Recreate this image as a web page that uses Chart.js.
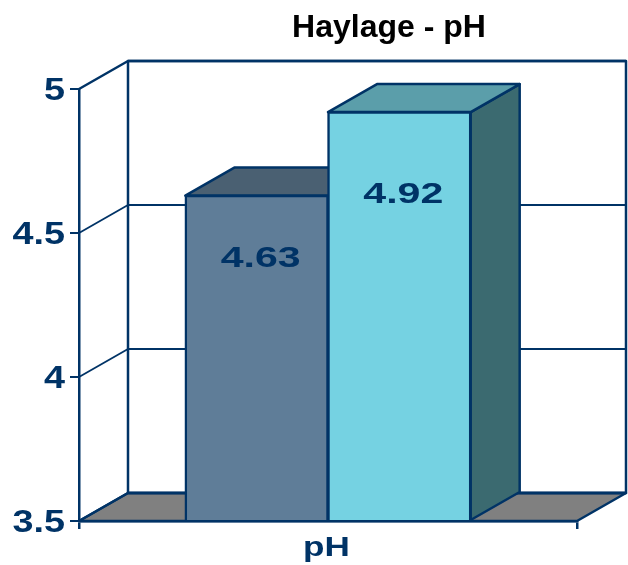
<!DOCTYPE html>
<html>
<head>
<meta charset="utf-8">
<title>Haylage - pH</title>
<style>
  html, body { margin: 0; padding: 0; background: #fff; }
  canvas { display: block; }
</style>
<script src="https://cdn.jsdelivr.net/npm/chart.js@4"></script>
</head>
<body>
<canvas id="chart" width="628" height="565"></canvas>
<script>
const categories = ['pH'];
const seriesA = [4.63];
const seriesB = [4.92];
const yTicks = [3.5, 4, 4.5, 5];
const chartTitle = 'Haylage - pH';

const NAVY = '#003366';
const FONT = '"Liberation Sans"';
// depth of the fake 3D box, same for walls and bars
const DEPTH_X = 49, DEPTH_Y = -28;
const faces = [
    { front: '#5f7d98', top: '#4a6072', side: '#3f5a70', labelDx: 4, labelDy: 71 },
    { front: '#75d2e2', top: '#5b9eaa', side: '#3b6a70', labelDx: 4, labelDy: 91 }
];

function poly(ctx, pts, fill) {
    ctx.beginPath();
    pts.forEach(function (p, i) { i ? ctx.lineTo(p[0], p[1]) : ctx.moveTo(p[0], p[1]); });
    ctx.closePath();
    if (fill) { ctx.fillStyle = fill; ctx.fill(); }
    ctx.stroke();
}

// The reference text is Arial bold pulled wider, so scale x around an anchor.
function stretched(ctx, anchor, sx, draw) {
    ctx.save();
    ctx.translate(anchor, 0);
    ctx.scale(sx, 1);
    ctx.translate(-anchor, 0);
    draw();
    ctx.restore();
}

function stretchLabels(scale, anchor, sx, dy) {
    if (scale.stretchedLabels) return;
    scale.stretchedLabels = true;
    const orig = scale.drawLabels;
    scale.drawLabels = function (area) {
        scale.ctx.save();
        scale.ctx.translate(0, dy);
        stretched(scale.ctx, anchor, sx, function () { orig.call(scale, area); });
        scale.ctx.restore();
    };
}

const box3d = {
    id: 'box3d',
    beforeDraw(chart) {
        stretchLabels(chart.scales.y, 65, 1.18, 2);
        stretchLabels(chart.scales.x, 333, 1.3, 1);
    },
    beforeDatasetsDraw(chart) {
        const ctx = chart.ctx, a = chart.chartArea, y = chart.scales.y;
        ctx.save();
        ctx.strokeStyle = NAVY;
        ctx.lineJoin = 'round';
        // floor
        ctx.lineWidth = 2.5;
        poly(ctx, [[a.left, a.bottom], [a.right, a.bottom],
            [a.right + DEPTH_X, a.bottom + DEPTH_Y], [a.left + DEPTH_X, a.bottom + DEPTH_Y]], '#808080');
        // back wall
        ctx.strokeRect(a.left + DEPTH_X, a.top + DEPTH_Y, a.right - a.left, a.bottom - a.top);
        // grid lines run along the side wall and across the back wall
        yTicks.forEach(function (v) {
            const py = y.getPixelForValue(v);
            ctx.lineWidth = (v === yTicks[0] || v === yTicks[yTicks.length - 1]) ? 2.5 : 1.8;
            ctx.beginPath();
            ctx.moveTo(a.left, py);
            ctx.lineTo(a.left + DEPTH_X, py + DEPTH_Y);
            ctx.lineTo(a.right + DEPTH_X, py + DEPTH_Y);
            ctx.stroke();
        });
        // side and top faces of the bars, the fronts come from the library
        ctx.lineWidth = 2.5;
        chart.data.datasets.forEach(function (ds, i) {
            const b = chart.getDatasetMeta(i).data[0], l = b.x - b.width / 2, r = b.x + b.width / 2;
            poly(ctx, [[r, b.y], [r + DEPTH_X, b.y + DEPTH_Y], [r + DEPTH_X, b.base + DEPTH_Y], [r, b.base]], faces[i].side);
            poly(ctx, [[l, b.y], [r, b.y], [r + DEPTH_X, b.y + DEPTH_Y], [l + DEPTH_X, b.y + DEPTH_Y]], faces[i].top);
        });
        ctx.restore();
    },
    afterDraw(chart) {
        const ctx = chart.ctx;
        ctx.save();
        ctx.textAlign = 'center';
        ctx.textBaseline = 'alphabetic';
        ctx.fillStyle = '#000';
        ctx.font = 'bold 32px ' + FONT;
        ctx.fillText(chartTitle, 389, 37);
        ctx.fillStyle = NAVY;
        ctx.font = 'bold 30px ' + FONT;
        chart.data.datasets.forEach(function (ds, i) {
            const b = chart.getDatasetMeta(i).data[0], cx = b.x + faces[i].labelDx;
            stretched(ctx, cx, 1.37, function () {
                ctx.fillText(ds.data[0].toFixed(2), cx, b.y + faces[i].labelDy);
            });
        });
        ctx.restore();
    }
};

new Chart(document.getElementById('chart').getContext('2d'), {
    type: 'bar',
    data: {
        labels: categories,
        datasets: [
            { data: seriesA, base: 3.5, backgroundColor: faces[0].front, borderColor: NAVY, borderWidth: 2.5, inflateAmount: 0.8 },
            { data: seriesB, base: 3.5, backgroundColor: faces[1].front, borderColor: NAVY, borderWidth: 2.5, inflateAmount: 0.8 }
        ]
    },
    options: {
        responsive: false,
        animation: false,
        layout: { padding: { left: 0, right: 51, top: 89, bottom: 0 } },
        plugins: { legend: { display: false }, tooltip: { enabled: false } },
        datasets: { bar: { categoryPercentage: 0.573, barPercentage: 1 } },
        scales: {
            x: {
                grid: { drawOnChartArea: false, color: NAVY, lineWidth: 2.5, tickLength: 8 },
                border: { color: NAVY, width: 2.5 },
                ticks: { color: NAVY, padding: 2, font: { family: FONT, weight: 'bold', size: 27 } },
                afterFit(scale) { scale.height = 44; }
            },
            y: {
                min: 3.5,
                max: 5,
                afterBuildTicks(scale) { scale.ticks = yTicks.map(function (v) { return { value: v }; }); },
                grid: { drawOnChartArea: false, color: NAVY, lineWidth: 2, tickLength: 9 },
                border: { color: NAVY, width: 2.5 },
                ticks: {
                    color: NAVY,
                    padding: 5,
                    font: { family: FONT, weight: 'bold', size: 32 },
                    callback(v) { return String(v); }
                },
                afterFit(scale) { scale.width = 79; }
            }
        }
    },
    plugins: [box3d]
});
</script>
</body>
</html>
